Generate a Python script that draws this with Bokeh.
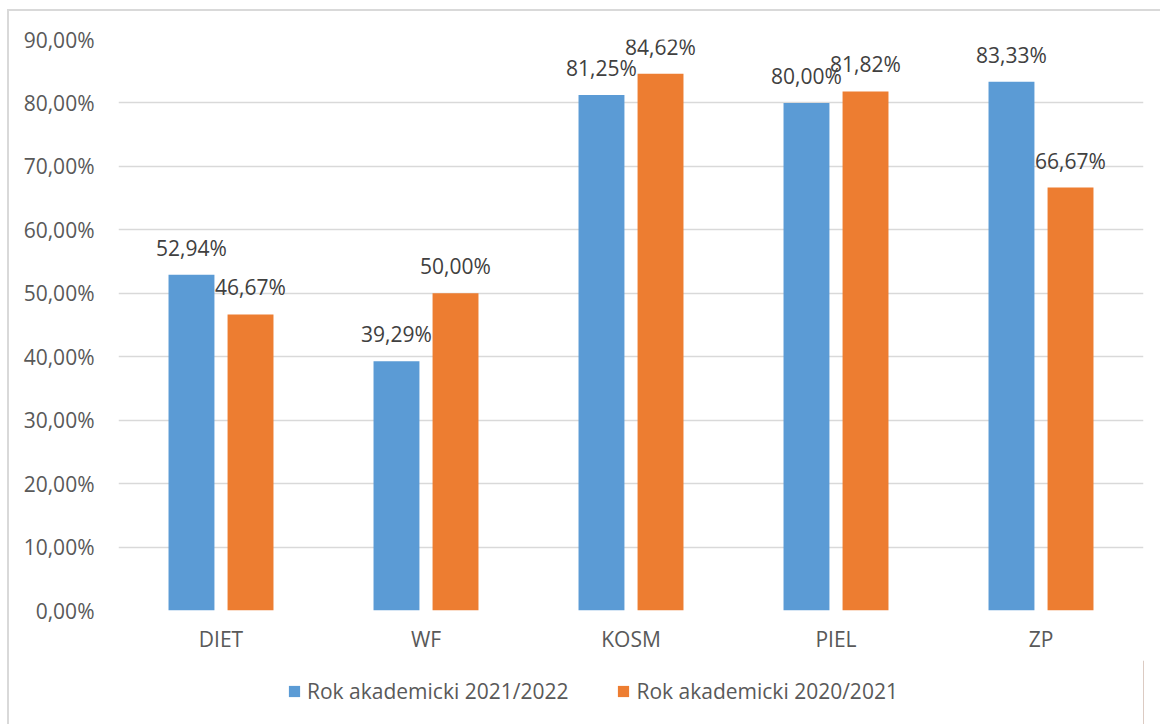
from bokeh.plotting import figure
from bokeh.layouts import column
from bokeh.models import ColumnDataSource, FactorRange, Range1d, FixedTicker, Legend, LegendItem
from bokeh.transform import dodge
from bokeh.core.properties import value
from bokeh.embed import file_html
from bokeh.resources import INLINE

categories = ["DIET", "WF", "KOSM", "PIEL", "ZP"]
series_names = ["Rok akademicki 2021/2022", "Rok akademicki 2020/2021"]
values_2122 = [52.94, 39.29, 81.25, 80.00, 83.33]
values_2021 = [46.67, 50.00, 84.62, 81.82, 66.67]
y_ticks = [0, 10, 20, 30, 40, 50, 60, 70, 80, 90]
y_tick_labels = ["0,00%", "10,00%", "20,00%", "30,00%", "40,00%", "50,00%",
                 "60,00%", "70,00%", "80,00%", "90,00%"]

def fmt(v):
    return f"{v:.2f}".replace(".", ",") + "%"

src = ColumnDataSource(dict(
    cat=categories,
    a=values_2122,
    b=values_2021,
    la=[fmt(v) for v in values_2122],
    lb=[fmt(v) for v in values_2021],
))

FONT = "Open Sans"
BLUE = "#5B9BD5"
ORANGE = "#ED7D31"

# main chart (page y 11..660)
p = figure(x_range=FactorRange(*categories), y_range=Range1d(0, 90),
           width=1151, height=649, output_backend="svg", toolbar_location=None,
           min_border_left=109, min_border_right=17, min_border_top=28, min_border_bottom=50)
p.outline_line_color = None
p.background_fill_color = "white"
p.border_fill_color = "white"

off = 0.144
w = 0.224
p.vbar(x=dodge("cat", -off, range=p.x_range), top="a", width=w, source=src,
       fill_color=BLUE, line_color=None)
p.vbar(x=dodge("cat", off, range=p.x_range), top="b", width=w, source=src,
       fill_color=ORANGE, line_color=None)

p.text(x=dodge("cat", -off, range=p.x_range), y="a", text="la", source=src,
       text_align="center", text_baseline="alphabetic", y_offset=-27,
       text_font=value(FONT), text_font_size="21px", text_color="#404040")
p.text(x=dodge("cat", off, range=p.x_range), y="b", text="lb", source=src,
       text_align="center", text_baseline="alphabetic", y_offset=-27,
       text_font=value(FONT), text_font_size="21px", text_color="#404040")

p.xgrid.grid_line_color = None
p.ygrid.grid_line_color = "#d9d9d9"
p.ygrid.grid_line_width = 1.5
p.yaxis.ticker = FixedTicker(ticks=y_ticks)
p.yaxis.major_label_overrides = {t: l for t, l in zip(y_ticks, y_tick_labels)}

for ax in (p.xaxis[0], p.yaxis[0]):
    ax.axis_line_color = None
    ax.major_tick_line_color = None
    ax.minor_tick_line_color = None
    ax.major_tick_out = 0
    ax.major_tick_in = 0
    ax.major_label_text_font = FONT
    ax.major_label_text_font_size = "21px"
    ax.major_label_text_color = "#595959"
p.yaxis.major_label_standoff = 24
p.xaxis.major_label_standoff = 14

# legend strip (page y 660..724)
p2 = figure(width=1151, height=64, x_range=Range1d(0, 1), y_range=Range1d(0, 1),
            output_backend="svg", toolbar_location=None,
            x_axis_location=None, y_axis_location=None, min_border=0)
p2.grid.visible = False
p2.outline_line_color = None
p2.background_fill_color = "white"
p2.border_fill_color = "white"
# key swatches only: their single bar lies outside the strip's visible range
k1 = p2.vbar(x=[5], top=[1], width=0.1, fill_color=BLUE, line_color=None)
k2 = p2.vbar(x=[5], top=[1], width=0.1, fill_color=ORANGE, line_color=None)

legend = Legend(items=[LegendItem(label=series_names[0], renderers=[k1]),
                       LegendItem(label=series_names[1], renderers=[k2])],
                orientation="horizontal", location=(169, 19),
                glyph_width=14, glyph_height=14, label_standoff=6, spacing=48,
                padding=0, margin=0, border_line_color=None, background_fill_alpha=0,
                label_text_font=FONT, label_text_font_size="21px",
                label_text_color="#595959", label_height=25)
p2.add_layout(legend, "center")

layout = column(p, p2, spacing=0,
                styles={"position": "relative", "left": "9px", "top": "11px",
                        "outline": "2px solid #d9d9d9"})

open("out.html", "w").write(file_html(layout, INLINE))
